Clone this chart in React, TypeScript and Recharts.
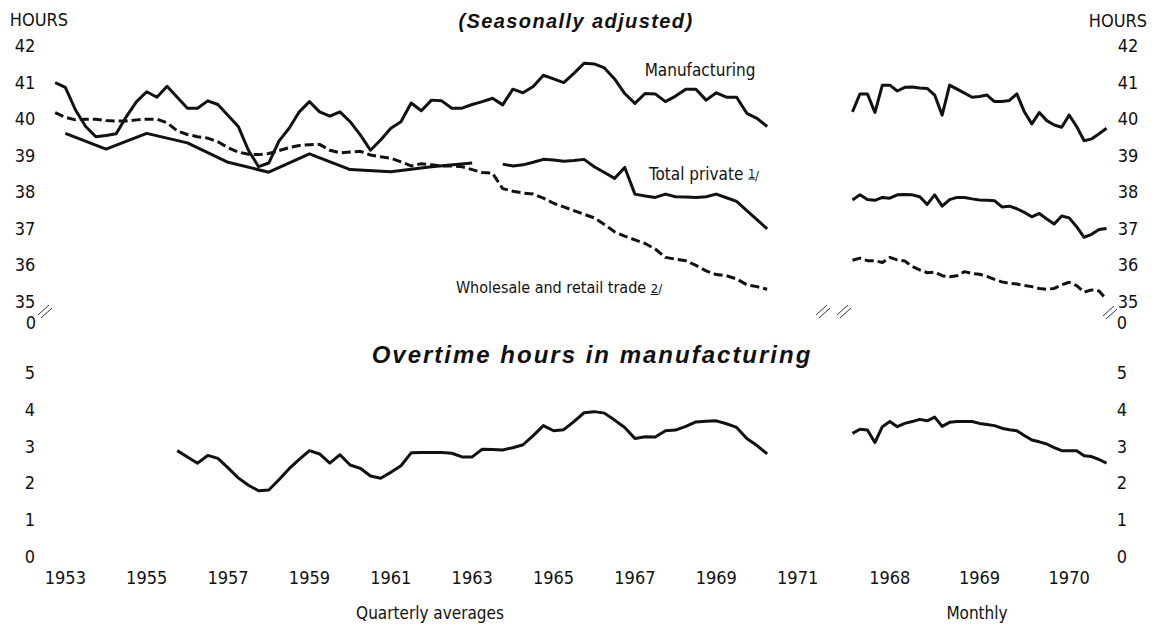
import React from "react";
import { LineChart, Line, XAxis, YAxis } from "recharts";

// quarterly averages, first point = 1953 Q1
const QUARTER_START = 1953;
const manufacturingQ = [
  41.0, 40.87, 40.25, 39.8, 39.52, 39.55, 39.6, 40.07, 40.48, 40.75,
  40.6, 40.9, 40.6, 40.3, 40.3, 40.5, 40.4, 40.1, 39.8, 39.15,
  38.7, 38.8, 39.4, 39.75, 40.2, 40.48, 40.2, 40.08, 40.2, 39.93,
  39.57, 39.15, 39.43, 39.75, 39.93, 40.44, 40.23, 40.52, 40.5, 40.3,
  40.3, 40.4, 40.48, 40.57, 40.39, 40.82, 40.72, 40.89, 41.2, 41.1,
  41.0, 41.25, 41.53, 41.51, 41.4, 41.1, 40.7, 40.43, 40.7, 40.69,
  40.48, 40.63, 40.82, 40.82, 40.52, 40.72, 40.6, 40.6, 40.16, 40.02,
  39.8,
];
const wholesaleQ = [
  40.18, 40.05, 39.98, 40.0, 40.0, 39.96, 39.95, 39.95, 39.98, 40.0,
  40.0, 39.9, 39.68, 39.58, 39.52, 39.48, 39.38, 39.22, 39.1, 39.04,
  39.03, 39.06, 39.14, 39.22, 39.28, 39.3, 39.31, 39.15, 39.08, 39.1,
  39.12, 39.02, 38.97, 38.93, 38.83, 38.72, 38.78, 38.75, 38.72, 38.72,
  38.7, 38.62, 38.54, 38.52, 38.1, 38.03, 37.98, 37.95, 37.84, 37.7,
  37.6, 37.5, 37.4, 37.3, 37.12, 36.92, 36.8, 36.7, 36.6, 36.45,
  36.22, 36.17, 36.13, 36.0, 35.85, 35.75, 35.72, 35.63, 35.47, 35.42,
  35.35,
];
// total private: annual averages to 1963, quarterly from 1964 Q1
const totalPrivateYears = [1953, 1954, 1955, 1956, 1957, 1958, 1959, 1960, 1961, 1962, 1963];
const totalPrivateAnnual = [39.61, 39.18, 39.61, 39.35, 38.82, 38.55, 39.05, 38.62, 38.56, 38.7, 38.8];
const TOTAL_PRIVATE_Q_START = 1964;
const totalPrivateQ = [
  38.77, 38.72, 38.75, 38.82, 38.9, 38.88, 38.85, 38.87, 38.9, 38.7,
  38.54, 38.38, 38.68, 37.95, 37.9, 37.86, 37.95, 37.88, 37.87, 37.86,
  37.88, 37.95, 37.85, 37.75, 37.5, 37.25, 37.0,
];
const OVERTIME_Q_START = 1956;
const overtimeQ = [
  2.89, 2.72, 2.55, 2.76, 2.68, 2.42, 2.15, 1.95, 1.8, 1.82,
  2.1, 2.4, 2.65, 2.89, 2.8, 2.55, 2.78, 2.5, 2.41, 2.2,
  2.14, 2.3, 2.48, 2.83, 2.84, 2.84, 2.84, 2.82, 2.72, 2.72,
  2.93, 2.92, 2.91, 2.97, 3.05, 3.3, 3.57, 3.43, 3.46, 3.68,
  3.92, 3.95, 3.91, 3.72, 3.52, 3.22, 3.27, 3.26, 3.43, 3.45,
  3.55, 3.67, 3.69, 3.7, 3.62, 3.52, 3.22, 3.03, 2.8,
];

// monthly, first point = January 1968
const MONTH_START = 1968;
const manufacturingM = [
  40.2, 40.69, 40.69, 40.18, 40.93, 40.93, 40.77, 40.87, 40.88, 40.85,
  40.84, 40.66, 40.11, 40.93, 40.82, 40.71, 40.6, 40.62, 40.66, 40.48,
  40.48, 40.51, 40.69, 40.2, 39.87, 40.18, 39.96, 39.84, 39.78, 40.11,
  39.8, 39.41, 39.46, 39.6, 39.75,
];
const totalPrivateM = [
  37.79, 37.93, 37.8, 37.78, 37.86, 37.84, 37.93, 37.94, 37.93, 37.88,
  37.67, 37.93, 37.62, 37.8, 37.86, 37.86, 37.82, 37.79, 37.78, 37.77,
  37.6, 37.62, 37.55, 37.45, 37.33, 37.42, 37.27, 37.13, 37.35, 37.3,
  37.06, 36.77, 36.85, 36.98, 37.01,
];
const wholesaleM = [
  36.14, 36.2, 36.13, 36.13, 36.08, 36.22, 36.15, 36.12, 35.97, 35.88,
  35.8, 35.82, 35.72, 35.69, 35.72, 35.83, 35.78, 35.76, 35.7, 35.62,
  35.55, 35.51, 35.49, 35.45, 35.42, 35.37, 35.35, 35.37, 35.47, 35.54,
  35.45, 35.27, 35.33, 35.3, 35.07,
];
const overtimeM = [
  3.36, 3.47, 3.45, 3.11, 3.54, 3.68, 3.54, 3.63, 3.68, 3.74,
  3.7, 3.8, 3.55, 3.66, 3.68, 3.68, 3.68, 3.63, 3.6, 3.57,
  3.5, 3.46, 3.43, 3.3, 3.18, 3.13, 3.07, 2.97, 2.89, 2.89,
  2.89, 2.75, 2.73, 2.65, 2.55,
];

const quarterlyYearLabels = [1953, 1955, 1957, 1959, 1961, 1963, 1965, 1967, 1969, 1971];
const monthlyYearLabels = [1968, 1969, 1970];
const hoursTicks = [35, 36, 37, 38, 39, 40, 41, 42];
const overtimeTicks = [0, 1, 2, 3, 4, 5];

const INK = "#111";
const FONT = "'DejaVu Sans Condensed', 'DejaVu Sans', sans-serif";
const TITLE_FONT = "'Liberation Sans', Arial, sans-serif";

// points are plotted at the end of their period; year labels sit mid-year
const quarterly = (start: number, values: number[]) =>
  values.map((v, i) => ({ t: start + (i + 1) / 4, v }));
const monthly = (start: number, values: number[]) =>
  values.map((v, i) => ({ t: start + (i + 1) / 12, v }));
const annual = (years: number[], values: number[]) =>
  values.map((v, i) => ({ t: years[i] + 0.5, v }));
const midYear = (years: number[]) => years.map((y) => y + 0.5);

const yTick = (xPos: number) => (props: any) => (
  <text x={xPos} y={props.y} dy={6} textAnchor="middle" fontSize={18} fill={INK} fontFamily={FONT}>
    {props.payload.value}
  </text>
);

const yearTick = (props: any) => (
  <text x={props.x} y={584} textAnchor="middle" fontSize={18} fill={INK} fontFamily={FONT}>
    {Math.floor(props.payload.value)}
  </text>
);

const lineProps = {
  type: "linear" as const,
  dataKey: "v",
  stroke: INK,
  strokeWidth: 3,
  dot: false,
  isAnimationActive: false,
  strokeLinejoin: "round" as const,
};
const dashed = { strokeDasharray: "9 4" };

const abs = (left: number, top: number): React.CSSProperties => ({ position: "absolute", left, top });

function Label({ x, y, size = 17, bold = false, children }: any) {
  return (
    <div
      style={{
        position: "absolute",
        left: x,
        top: y,
        transform: "translate(-50%, -50%)",
        whiteSpace: "nowrap",
        fontFamily: bold ? TITLE_FONT : FONT,
        fontSize: size,
        fontWeight: bold ? 700 : 400,
        fontStyle: bold ? "italic" : "normal",
        letterSpacing: bold ? (size > 21 ? 2 : 1.4) : 0,
        color: INK,
        lineHeight: 1,
      }}
    >
      {children}
    </div>
  );
}

function BreakMark({ x, y }: { x: number; y: number }) {
  return (
    <g stroke="#333" strokeWidth={1}>
      <line x1={x} y1={y + 10} x2={x + 11} y2={y} />
      <line x1={x + 3} y1={y + 13} x2={x + 14} y2={y + 3} />
    </g>
  );
}

export default function App() {
  return (
    <div style={{ position: "absolute", left: 0, top: 0, width: 1156, height: 626, background: "#fff", overflow: "hidden" }}>
      {/* average weekly hours, quarterly */}
      <div style={abs(0, 0)}>
        <LineChart width={830} height={320} margin={{ top: 46, right: 12, bottom: 18, left: 0 }}>
          <XAxis dataKey="t" type="number" domain={[1953, 1972]} hide allowDuplicatedCategory={false} />
          <YAxis domain={[35, 42]} ticks={hoursTicks} width={45} axisLine={false} tickLine={false} tick={yTick(25)} />
          <Line {...lineProps} data={quarterly(QUARTER_START, manufacturingQ)} />
          <Line {...lineProps} data={annual(totalPrivateYears, totalPrivateAnnual)} />
          <Line {...lineProps} data={quarterly(TOTAL_PRIVATE_Q_START, totalPrivateQ)} />
          <Line {...lineProps} {...dashed} data={quarterly(QUARTER_START, wholesaleQ)} />
        </LineChart>
      </div>

      {/* average weekly hours, monthly */}
      <div style={abs(0, 0)}>
        <LineChart width={1156} height={320} margin={{ top: 46, right: 0, bottom: 18, left: 845 }}>
          <XAxis dataKey="t" type="number" domain={[1968, 1971]} hide allowDuplicatedCategory={false} />
          <YAxis orientation="right" domain={[35, 42]} ticks={hoursTicks} width={42} axisLine={false} tickLine={false} tick={yTick(1128)} />
          <Line {...lineProps} data={monthly(MONTH_START, manufacturingM)} />
          <Line {...lineProps} data={monthly(MONTH_START, totalPrivateM)} />
          <Line {...lineProps} {...dashed} data={monthly(MONTH_START, wholesaleM)} />
        </LineChart>
      </div>

      {/* overtime hours, quarterly */}
      <div style={abs(0, 0)}>
        <LineChart width={830} height={626} margin={{ top: 373, right: 12, bottom: 39, left: 0 }}>
          <XAxis
            dataKey="t"
            type="number"
            domain={[1953, 1972]}
            ticks={midYear(quarterlyYearLabels)}
            height={30}
            axisLine={false}
            tickLine={false}
            tick={yearTick}
            allowDuplicatedCategory={false}
          />
          <YAxis domain={[0, 5]} ticks={overtimeTicks} width={45} axisLine={false} tickLine={false} tick={yTick(30)} />
          <Line {...lineProps} data={quarterly(OVERTIME_Q_START, overtimeQ)} />
        </LineChart>
      </div>

      {/* overtime hours, monthly */}
      <div style={abs(0, 0)}>
        <LineChart width={1156} height={626} margin={{ top: 373, right: 0, bottom: 39, left: 845 }}>
          <XAxis
            dataKey="t"
            type="number"
            domain={[1968, 1971]}
            ticks={midYear(monthlyYearLabels)}
            height={30}
            axisLine={false}
            tickLine={false}
            tick={yearTick}
            allowDuplicatedCategory={false}
          />
          <YAxis orientation="right" domain={[0, 5]} ticks={overtimeTicks} width={42} axisLine={false} tickLine={false} tick={yTick(1122)} />
          <Line {...lineProps} data={monthly(MONTH_START, overtimeM)} />
        </LineChart>
      </div>

      {/* axis breaks */}
      <svg width={1156} height={626} style={{ position: "absolute", left: 0, top: 0, pointerEvents: "none" }}>
        <BreakMark x={38} y={305} />
        <BreakMark x={816} y={305} />
        <BreakMark x={837} y={305} />
        <BreakMark x={1103} y={306} />
      </svg>

      <Label x={39} y={20} size={18}>HOURS</Label>
      <Label x={1118} y={21} size={18}>HOURS</Label>
      <Label x={31} y={323} size={18}>0</Label>
      <Label x={1122} y={323} size={18}>0</Label>
      <Label x={576} y={21} size={20} bold>(Seasonally adjusted)</Label>
      <Label x={700} y={70}>Manufacturing</Label>
      <Label x={704} y={174}>
        Total private <span style={{ fontSize: 12, textDecoration: "underline", verticalAlign: "2px" }}>1</span>
        <span style={{ fontSize: 13 }}>/</span>
      </Label>
      <Label x={559} y={288} size={16}>
        Wholesale and retail trade <span style={{ fontSize: 13, textDecoration: "underline" }}>2</span>
        <span style={{ fontSize: 13 }}>/</span>
      </Label>
      <Label x={592} y={355} size={24} bold>Overtime hours in manufacturing</Label>
      <Label x={430} y={613}>Quarterly averages</Label>
      <Label x={977} y={613}>Monthly</Label>
    </div>
  );
}
